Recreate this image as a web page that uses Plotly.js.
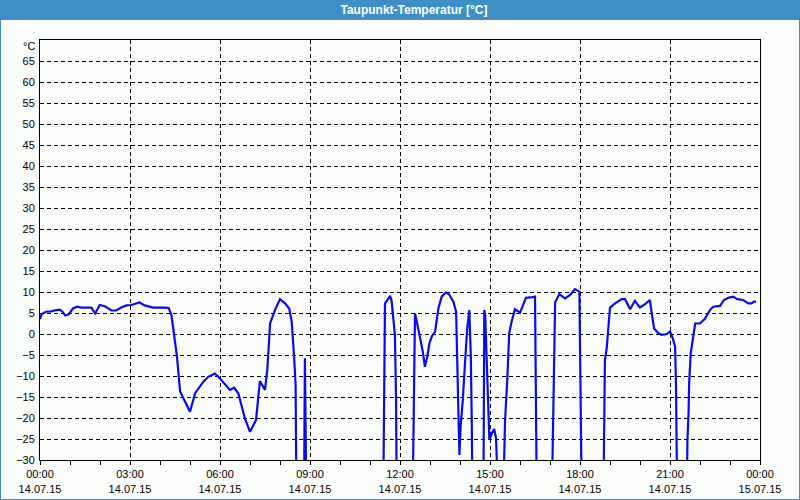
<!DOCTYPE html>
<html>
<head>
<meta charset="utf-8">
<script src="https://cdn.plot.ly/plotly-3.0.1.min.js"></script>
<style>html,body{margin:0;padding:0;background:#fbfdfb;}#chart{width:800px;height:500px;}</style>
</head>
<body>
<div id="chart"></div>
<script>
// time in hours since 14.07.15 00:00
const hours = [0.0,0.05,0.2,0.38,0.54,0.66,0.75,0.84,0.96,1.1,1.24,1.38,1.71,1.84,1.99,2.16,2.38,2.54,2.71,2.88,3.04,3.21,3.32,3.49,3.77,4.16,4.29,4.38,4.47,4.56,4.67,4.83,5.0,5.17,5.44,5.61,5.83,6.0,6.17,6.33,6.47,6.61,6.83,7.0,7.2,7.28,7.33,7.5,7.58,7.67,7.83,8.0,8.17,8.31,8.39,8.47,8.52,8.55,8.8,8.83,8.86,8.88,11.44,11.47,11.5,11.58,11.67,11.72,11.78,11.83,11.87,11.89,12.42,12.47,12.5,12.56,12.67,12.76,12.83,12.91,12.98,13.06,13.17,13.28,13.39,13.53,13.64,13.78,13.87,13.91,13.94,13.98,14.02,14.09,14.17,14.24,14.31,14.36,14.39,14.42,14.78,14.81,14.84,14.89,14.94,14.98,15.06,15.14,15.2,15.28,15.44,15.5,15.58,15.64,15.72,15.83,16.0,16.2,16.36,16.5,16.53,16.56,17.06,17.11,17.14,17.17,17.31,17.5,17.67,17.83,17.98,18.02,18.06,18.78,18.8,18.83,18.89,18.94,19.0,19.17,19.39,19.5,19.67,19.83,20.0,20.17,20.33,20.39,20.47,20.61,20.72,20.89,21.0,21.09,21.17,21.2,21.24,21.56,21.58,21.62,21.64,21.69,21.78,21.84,22.0,22.17,22.33,22.44,22.67,22.8,22.94,23.11,23.24,23.44,23.61,23.72,23.8,23.87];
const dewPoint = [3.5,4.7,5.3,5.4,5.7,5.8,5.3,4.4,4.7,6.1,6.5,6.3,6.3,4.9,6.9,6.6,5.6,5.6,6.3,6.8,6.9,7.3,7.5,6.8,6.3,6.3,6.2,4.5,-0.2,-5,-13.7,-16.1,-18.5,-14.1,-11.4,-10.2,-9.4,-10.6,-12,-13.3,-12.8,-14.1,-20.1,-23.3,-20.5,-14.9,-11.2,-13.3,-8.2,2.5,5.7,8.3,7.3,6.0,2.9,-5.4,-12.1,-40,-40,-5.8,-25,-40,-40,-22,7.3,8.1,9.1,7.9,3.7,-0.2,-16.1,-40,-40,-12.1,4.9,2.9,-1,-4.2,-7.8,-5.4,-2.2,-0.6,0.6,6.1,8.9,9.9,9.4,7.7,5.3,-7.4,-14.5,-28.8,-22,-16.1,-6.6,1.3,5.7,-5,-20,-40,-40,5.7,4.5,-6.6,-13.7,-25.2,-23.7,-22.6,-24.8,-40,-40,-20.9,-10.2,0.2,2.9,5.9,5.1,8.6,8.7,8.9,-14.9,-40,-40,-17.3,-4.6,7.5,9.5,8.5,9.3,10.7,10.1,-10,-40,-40,-21.7,-6.2,-3.4,1.3,6.3,7.3,8.3,8.3,5.9,7.9,6.3,7.1,8.1,4.9,1.3,0.2,-0.2,0,0.6,-1,-3,-12.1,-40,-40,-25.6,-18.5,-11.4,-4.6,-0.2,2.5,2.5,3.7,5.7,6.5,6.7,8.1,8.6,8.9,8.3,8.1,7.3,7.3,7.7,7.7];

const xTickVals = [0,3,6,9,12,15,18,21,24];
const xTickText = ['00:00<br>14.07.15','03:00<br>14.07.15','06:00<br>14.07.15','09:00<br>14.07.15','12:00<br>14.07.15','15:00<br>14.07.15','18:00<br>14.07.15','21:00<br>14.07.15','00:00<br>15.07.15'];
const yTickVals = [-30,-25,-20,-15,-10,-5,0,5,10,15,20,25,30,35,40,45,50,55,60,65];
const titleText = 'Taupunkt-Temperatur [°C]';
const unitText = '°C';

const W = 800, H = 500, L = 40, R = 40, T = 40, B = 40;
const pw = W - L - R, ph = H - T - B;
const blue = '#3d8fc6';
const font = 'Liberation Sans, Arial, sans-serif';

Plotly.newPlot('chart', [{
  x: hours, y: dewPoint, type: 'scatter', mode: 'lines',
  line: {color: '#0a0aee', width: 2.2},
  hoverinfo: 'skip'
}], {
  width: W, height: H,
  margin: {l: L, r: R, t: T, b: B, pad: 0},
  paper_bgcolor: '#fbfdfb', plot_bgcolor: '#fbfdfb',
  showlegend: false,
  font: {family: font, size: 11, color: '#000'},
  title: {text: '<b>' + titleText + '</b>', font: {family: font, size: 12, color: '#fff'}, x: 414/W, xanchor: 'center', xref: 'container', y: 1 - 10/H, yanchor: 'middle', yref: 'container'},
  xaxis: {
    range: [0, 24], tickmode: 'array', tickvals: xTickVals, ticktext: xTickText,
    showgrid: true, gridcolor: '#000', gridwidth: 1, griddash: '4px,3px',
    showline: true, linecolor: '#000', linewidth: 1, mirror: true,
    ticks: 'outside', ticklen: 4, tickcolor: '#000', zeroline: false,
    minor: {tickmode: 'linear', tick0: 0, dtick: 1, ticks: 'outside', ticklen: 4, tickcolor: '#000', showgrid: false},
    fixedrange: true
  },
  yaxis: {
    range: [-30, 70], tickmode: 'array', tickvals: yTickVals,
    showgrid: true, gridcolor: '#000', gridwidth: 1, griddash: '4px,3px',
    showline: true, linecolor: '#000', linewidth: 1, mirror: true,
    ticks: '', zeroline: false, ticklabelstandoff: 2, fixedrange: true
  },
  annotations: [{
    text: unitText, xref: 'paper', yref: 'paper', x: 0, y: 1, xanchor: 'right', yanchor: 'middle',
    xshift: -3, yshift: -6, showarrow: false, font: {family: font, size: 11, color: '#000'}
  }],
  shapes: [
    {type: 'rect', xref: 'paper', yref: 'paper', x0: -L/pw, x1: 1 + R/pw, y0: 1 + (T-20)/ph, y1: 1 + T/ph, fillcolor: blue, line: {width: 0}, layer: 'below'},
    {type: 'rect', xref: 'paper', yref: 'paper', x0: -L/pw + 0.5/pw, x1: 1 + R/pw - 0.5/pw, y0: -B/ph + 0.5/ph, y1: 1 + T/ph, fillcolor: 'rgba(0,0,0,0)', line: {width: 1, color: blue}}
  ]
}, {displayModeBar: false, staticPlot: true});
</script>
</body>
</html>
